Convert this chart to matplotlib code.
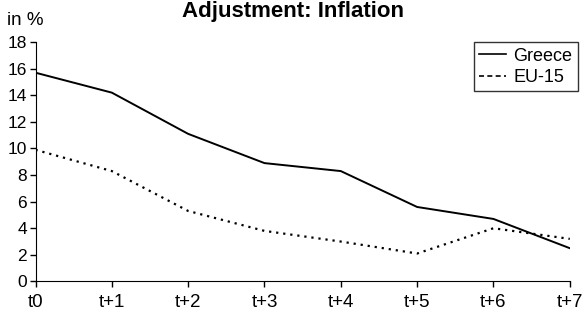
import matplotlib
matplotlib.use("Agg")
import matplotlib.pyplot as plt
from matplotlib.lines import Line2D

plt.rcParams.update({
    "font.family": ["Liberation Sans", "DejaVu Sans"],
    "font.size": 13,
})

periods = ["t0", "t+1", "t+2", "t+3", "t+4", "t+5", "t+6", "t+7"]
greece = [15.7, 14.2, 11.1, 8.9, 8.3, 5.6, 4.7, 2.5]
eu15 = [9.9, 8.3, 5.3, 3.8, 3.0, 2.1, 4.0, 3.2]
y_ticks = [0, 2, 4, 6, 8, 10, 12, 14, 16, 18]

fig = plt.figure(figsize=(5.82, 3.12), dpi=100)
ax = fig.add_axes([0.061, 0.098, 0.918, 0.767])

x = range(len(periods))
ax.plot(x, greece, color="black", lw=1.4, label="Greece")
ax.plot(x, eu15, color="black", lw=1.6, linestyle=(0, (1, 2.2)), label="EU-15")

ax.set_xlim(0, len(periods) - 1)
ax.set_ylim(0, 18)
ax.set_xticks(list(x))
ax.set_xticklabels(periods, fontsize=13.5)
ax.set_yticks(y_ticks)
ax.tick_params(axis="y", direction="out", length=4, width=1, pad=2, labelsize=12.5)
ax.tick_params(axis="x", direction="out", length=4, width=1, pad=5)

ax.spines["top"].set_visible(False)
ax.spines["right"].set_visible(False)

handles = [
    Line2D([], [], color="black", lw=1.2),
    Line2D([], [], color="black", lw=1.2, linestyle=(0, (3, 2))),
]
leg = ax.legend(handles, ["Greece", "EU-15"], loc="upper right",
                bbox_to_anchor=(1.015, 1.0), frameon=True, fancybox=False,
                edgecolor="black", handlelength=1.5, handletextpad=0.4,
                borderpad=0.3, labelspacing=0.25, borderaxespad=0,
                fontsize=13)
leg.get_frame().set_linewidth(1.0)

fig.text(0.012, 0.92, "in %", ha="left", va="baseline", fontsize=13.5)
fig.text(0.503, 0.997, "Adjustment: Inflation", ha="center", va="top",
         fontsize=16, fontweight="bold")

fig.savefig("out.png", dpi=100)
